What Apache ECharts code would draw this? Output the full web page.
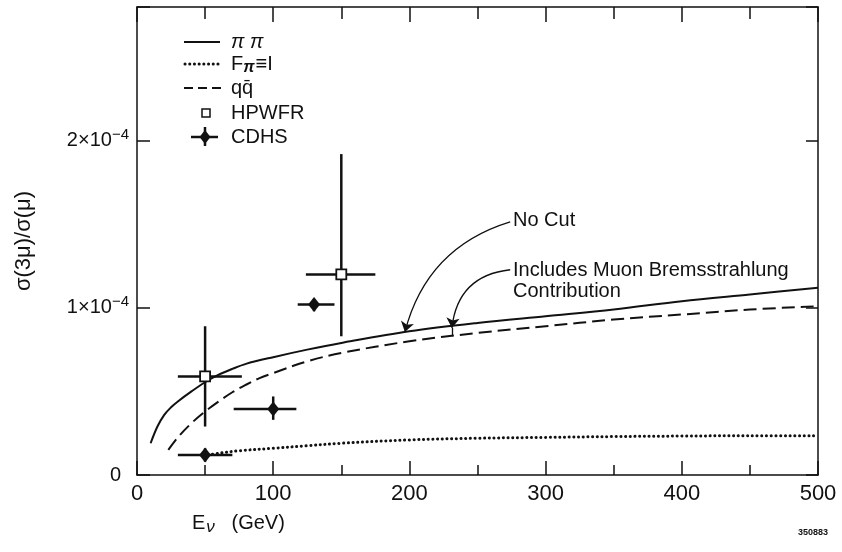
<!DOCTYPE html>
<html>
<head>
<meta charset="utf-8">
<script src="https://cdn.jsdelivr.net/npm/echarts@6/dist/echarts.min.js"></script>
<style>
  html, body { margin: 0; padding: 0; background: #fff; }
  #chart { width: 842px; height: 552px; }
</style>
</head>
<body>
<div id="chart"></div>
<script>
// all y values are in units of 1e-4
const piE = [10, 15, 20, 25, 30, 40, 50, 60, 70, 80, 100, 125, 150, 200, 250, 300, 350, 400, 450, 500];
const piY = [0.19, 0.29, 0.36, 0.405, 0.44, 0.50, 0.555, 0.60, 0.635, 0.665, 0.705, 0.75, 0.79, 0.86, 0.91, 0.95, 0.99, 1.04, 1.08, 1.12];

const fpiE = [52, 60, 75, 100, 125, 150, 200, 250, 300, 350, 400, 450, 500];
const fpiY = [0.12, 0.13, 0.145, 0.16, 0.175, 0.19, 0.21, 0.22, 0.225, 0.23, 0.233, 0.235, 0.235];

const qqE = [23, 30, 40, 50, 60, 70, 80, 90, 100, 125, 150, 200, 250, 300, 350, 400, 450, 500];
const qqY = [0.15, 0.225, 0.31, 0.38, 0.44, 0.495, 0.54, 0.58, 0.61, 0.68, 0.73, 0.80, 0.85, 0.89, 0.93, 0.96, 0.99, 1.01];

// HPWFR points: energy, value, energy range, value range
const hpE = [50, 150];
const hpY = [0.59, 1.20];
const hpElo = [30, 124];
const hpEhi = [77, 175];
const hpYlo = [0.29, 0.83];
const hpYhi = [0.89, 1.92];

// CDHS points
const cdE = [50, 100, 130];
const cdY = [0.12, 0.395, 1.02];
const cdElo = [30, 71, 118];
const cdEhi = [70, 117, 145];
const cdYlo = [0.08, 0.33, 0.98];
const cdYhi = [0.16, 0.47, 1.05];

const xTicks = [0, 100, 200, 300, 400, 500];
const yTicks = [0, 1, 2];

// annotation arrows [start, end] in data units
const noCutArrow = [[274, 1.515], [196.7, 0.856]];
const bremsArrow = [[274, 1.228], [231.2, 0.88]];
const bremsStem = [[231.2, 0.88], [231.2, 0.83]];

const FONT = "'Liberation Sans', Arial, sans-serif";
const BLACK = "#111";

const zip = (a, b) => a.map((v, i) => [v, b[i]]);
const errRows = (e, y, elo, ehi, ylo, yhi) => e.map((v, i) => [v, y[i], elo[i], ehi[i], ylo[i], yhi[i]]);

const errorBars = (params, api) => {
  const l = api.coord([api.value(2), api.value(1)]);
  const r = api.coord([api.value(3), api.value(1)]);
  const b = api.coord([api.value(0), api.value(4)]);
  const t = api.coord([api.value(0), api.value(5)]);
  const st = { stroke: BLACK, lineWidth: 2.5 };
  return {
    type: "group",
    children: [
      { type: "line", shape: { x1: l[0], y1: l[1], x2: r[0], y2: r[1] }, style: st },
      { type: "line", shape: { x1: b[0], y1: b[1], x2: t[0], y2: t[1] }, style: st },
    ],
  };
};

const legendRows = [42, 64, 88, 113, 137];
const legendText = (y, text, rich, italic) => ({
  type: "text",
  x: 231,
  y: y,
  style: {
    text: text,
    font: (italic ? "italic " : "") + "20px " + FONT,
    fill: BLACK,
    verticalAlign: "middle",
    rich: rich,
  },
});

const graphic = [
  // legend
  { type: "line", shape: { x1: 184, y1: legendRows[0], x2: 220, y2: legendRows[0] }, style: { stroke: BLACK, lineWidth: 2 } },
  legendText(legendRows[0], "π π", null, true),
  { type: "line", shape: { x1: 185, y1: legendRows[1], x2: 220, y2: legendRows[1] }, style: { stroke: BLACK, lineWidth: 3, lineDash: [0.1, 4.6], lineCap: "round" } },
  legendText(legendRows[1], "{a|F}{b|π}{a|≡I}", {
    a: { fontSize: 20, fontFamily: FONT, fill: BLACK },
    b: { fontSize: 16, fontFamily: FONT, fontStyle: "italic", fontWeight: "bold", fill: BLACK, padding: [8, 1, 0, 0] },
  }),
  { type: "line", shape: { x1: 184, y1: legendRows[2], x2: 222, y2: legendRows[2] }, style: { stroke: BLACK, lineWidth: 2, lineDash: [9, 5] } },
  legendText(legendRows[2], "qq\u0304"),
  { type: "rect", shape: { x: 202, y: legendRows[3] - 4, width: 8, height: 8 }, style: { fill: "#fff", stroke: BLACK, lineWidth: 1.5 } },
  legendText(legendRows[3], "HPWFR"),
  { type: "line", shape: { x1: 191, y1: legendRows[4], x2: 218, y2: legendRows[4] }, style: { stroke: BLACK, lineWidth: 2.5 } },
  { type: "line", shape: { x1: 205, y1: legendRows[4] - 10, x2: 205, y2: legendRows[4] + 9 }, style: { stroke: BLACK, lineWidth: 2.5 } },
  { type: "polygon", shape: { points: [[205, legendRows[4] - 7], [210.5, legendRows[4]], [205, legendRows[4] + 7], [199.5, legendRows[4]]] }, style: { fill: BLACK } },
  legendText(legendRows[4], "CDHS"),
  // annotations
  { type: "text", x: 513, y: 220, style: { text: "No Cut", font: "20px " + FONT, fill: BLACK, verticalAlign: "middle" } },
  { type: "text", x: 513, y: 270, style: { text: "Includes Muon Bremsstrahlung", font: "20px " + FONT, fill: BLACK, verticalAlign: "middle" } },
  { type: "text", x: 513, y: 291, style: { text: "Contribution", font: "20px " + FONT, fill: BLACK, verticalAlign: "middle" } },
  // x axis title
  {
    type: "text",
    x: 192,
    y: 523,
    style: {
      text: "{a|E}{b|ν}{a|   (GeV)}",
      fill: BLACK,
      verticalAlign: "middle",
      rich: {
        a: { fontSize: 20, fontFamily: FONT, fill: BLACK },
        b: { fontSize: 17, fontFamily: FONT, fontStyle: "italic", fill: BLACK, padding: [8, 0, 0, 1] },
      },
    },
  },
  { type: "text", x: 798, y: 533, style: { text: "350883", font: "bold 9px " + FONT, fill: BLACK, verticalAlign: "middle" } },
];

const option = {
  animation: false,
  backgroundColor: "#fff",
  grid: { left: 137, right: 24, top: 7, bottom: 77, containLabel: false },
  xAxis: [
    {
      type: "value",
      position: "bottom",
      min: 0,
      max: 500,
      interval: 100,
      axisLine: { show: true, lineStyle: { color: BLACK, width: 1.5 } },
      axisTick: { show: true, inside: true, length: 14, lineStyle: { color: BLACK, width: 1.5 } },
      minorTick: { show: true, splitNumber: 2, length: 10, lineStyle: { color: BLACK, width: 1.5 } },
      splitLine: { show: false },
      minorSplitLine: { show: false },
      axisLabel: {
        margin: 8,
        fontSize: 22,
        fontFamily: FONT,
        color: BLACK,
        formatter: (v) => (xTicks.includes(v) ? String(v) : ""),
      },
    },
    {
      type: "value",
      position: "top",
      min: 0,
      max: 500,
      interval: 100,
      axisLine: { show: true, onZero: false, lineStyle: { color: BLACK, width: 1.5 } },
      axisTick: { show: true, inside: true, length: 15, lineStyle: { color: BLACK, width: 1.5 } },
      minorTick: { show: true, splitNumber: 2, length: 12, lineStyle: { color: BLACK, width: 1.5 } },
      splitLine: { show: false },
      axisLabel: { show: false },
    },
  ],
  yAxis: [
    {
      type: "value",
      position: "left",
      min: 0,
      max: 2.8,
      interval: 1,
      name: "σ(3μ)/σ(μ)",
      nameLocation: "middle",
      nameGap: 102,
      nameTextStyle: { fontSize: 22, fontFamily: FONT, color: BLACK },
      axisLine: { show: true, onZero: false, lineStyle: { color: BLACK, width: 1.5 } },
      axisTick: { show: true, inside: true, length: 13, lineStyle: { color: BLACK, width: 1.5 } },
      splitLine: { show: false },
      axisLabel: {
        margin: 8,
        fontSize: 20,
        fontFamily: FONT,
        color: BLACK,
        formatter: (v) => {
          if (!yTicks.includes(v)) return "";
          if (v === 0) return "{z|0}";
          return "{m|" + v + "×10}{s|−4}";
        },
        rich: {
          z: { fontSize: 20, fontFamily: FONT, color: BLACK, padding: [0, 8, 0, 0] },
          m: { fontSize: 20, fontFamily: FONT, color: BLACK },
          s: { fontSize: 15, fontFamily: FONT, color: BLACK, padding: [0, 0, 12, 0] },
        },
      },
    },
    {
      type: "value",
      position: "right",
      min: 0,
      max: 2.8,
      interval: 1,
      axisLine: { show: true, onZero: false, lineStyle: { color: BLACK, width: 1.5 } },
      axisTick: { show: true, inside: true, length: 12, lineStyle: { color: BLACK, width: 1.5 } },
      splitLine: { show: false },
      axisLabel: { show: false },
    },
  ],
  graphic: graphic,
  series: [
    {
      name: "ππ",
      type: "line",
      data: zip(piE, piY),
      smooth: 0.35,
      showSymbol: false,
      lineStyle: { color: BLACK, width: 2 },
      z: 3,
    },
    {
      name: "Fπ≡1",
      type: "line",
      data: zip(fpiE, fpiY),
      smooth: 0.35,
      showSymbol: false,
      lineStyle: { color: BLACK, width: 3, type: [0.1, 4.6], cap: "round" },
      z: 3,
    },
    {
      name: "qq̄",
      type: "line",
      data: zip(qqE, qqY),
      smooth: 0.35,
      showSymbol: false,
      lineStyle: { color: BLACK, width: 2, type: [13, 6] },
      z: 3,
    },
    {
      name: "arrows",
      type: "lines",
      coordinateSystem: "cartesian2d",
      silent: true,
      symbol: ["none", "arrow"],
      symbolSize: 10,
      lineStyle: { color: BLACK, width: 1.3, opacity: 1 },
      data: [
        { coords: noCutArrow, lineStyle: { curveness: -0.28 } },
        { coords: bremsArrow, lineStyle: { curveness: -0.4 } },
        { coords: bremsStem, symbol: "none", lineStyle: { curveness: 0 } },
      ],
      z: 5,
    },
    {
      name: "HPWFR errors",
      type: "custom",
      renderItem: errorBars,
      encode: { x: 0, y: 1 },
      data: errRows(hpE, hpY, hpElo, hpEhi, hpYlo, hpYhi),
      z: 4,
    },
    {
      name: "CDHS errors",
      type: "custom",
      renderItem: errorBars,
      encode: { x: 0, y: 1 },
      data: errRows(cdE, cdY, cdElo, cdEhi, cdYlo, cdYhi),
      z: 4,
    },
    {
      name: "HPWFR",
      type: "scatter",
      data: zip(hpE, hpY),
      symbol: "rect",
      symbolSize: 10,
      itemStyle: { color: "#fff", borderColor: BLACK, borderWidth: 1.8, opacity: 1 },
      z: 6,
    },
    {
      name: "CDHS",
      type: "scatter",
      data: zip(cdE, cdY),
      symbol: "diamond",
      symbolSize: [12, 15],
      itemStyle: { color: BLACK, opacity: 1 },
      z: 6,
    },
  ],
};

const chart = echarts.init(document.getElementById("chart"), null, { renderer: "canvas" });
chart.setOption(option);
</script>
</body>
</html>
